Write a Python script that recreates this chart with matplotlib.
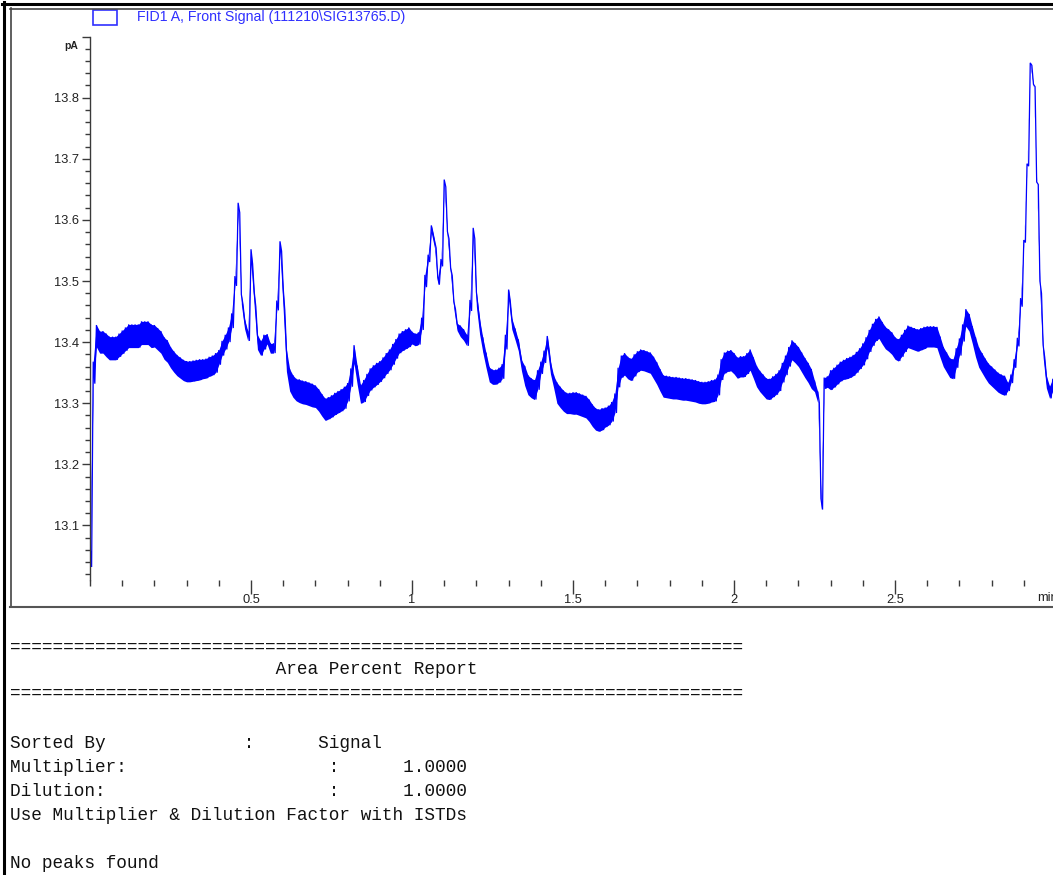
import numpy as np
import matplotlib.pyplot as plt
from matplotlib.lines import Line2D
from matplotlib.patches import Rectangle
from matplotlib.ticker import FixedLocator, FixedFormatter, MultipleLocator

# FID1 A front signal, centre of the noise band, one value every 0.01 min (pA)
step = 0.01
signal = [
    13.05, 13.35, 13.41, 13.40, 13.40, 13.395, 13.39, 13.39, 13.39, 13.395,
    13.40, 13.405, 13.41, 13.41, 13.41, 13.41, 13.415, 13.415, 13.415, 13.41,
    13.41, 13.405, 13.40, 13.39, 13.385, 13.375, 13.368, 13.362, 13.358, 13.354,
    13.352, 13.352, 13.353, 13.354, 13.355, 13.356, 13.357, 13.36, 13.362, 13.366,
    13.375, 13.39, 13.40, 13.412, 13.435, 13.50, 13.62, 13.47, 13.43, 13.41,
    13.54, 13.47, 13.40, 13.39, 13.40, 13.405, 13.39, 13.39, 13.46, 13.557,
    13.47, 13.37, 13.338, 13.328, 13.322, 13.32, 13.318, 13.317, 13.315, 13.313,
    13.311, 13.305, 13.297, 13.29, 13.292, 13.295, 13.299, 13.302, 13.305, 13.309,
    13.318, 13.342, 13.38, 13.345, 13.315, 13.32, 13.33, 13.339, 13.344, 13.348,
    13.352, 13.358, 13.365, 13.371, 13.38, 13.389, 13.398, 13.402, 13.405, 13.408,
    13.407, 13.404, 13.406, 13.43, 13.50, 13.537, 13.585, 13.56, 13.50, 13.53,
    13.66, 13.575, 13.515, 13.46, 13.425, 13.418, 13.412, 13.403, 13.46, 13.578,
    13.47, 13.425, 13.395, 13.37, 13.347, 13.343, 13.343, 13.346, 13.352, 13.40,
    13.477, 13.43, 13.413, 13.395, 13.362, 13.345, 13.33, 13.325, 13.322, 13.338,
    13.358, 13.376, 13.40, 13.358, 13.335, 13.317, 13.31, 13.304, 13.30, 13.30,
    13.30, 13.30, 13.298, 13.296, 13.294, 13.288, 13.28, 13.274, 13.272, 13.274,
    13.277, 13.28, 13.286, 13.30, 13.342, 13.36, 13.364, 13.358, 13.355, 13.362,
    13.368, 13.371, 13.37, 13.368, 13.366, 13.358, 13.349, 13.338, 13.328, 13.327,
    13.326, 13.325, 13.325, 13.324, 13.323, 13.323, 13.322, 13.321, 13.32, 13.318,
    13.317, 13.317, 13.318, 13.32, 13.321, 13.33, 13.355, 13.366, 13.369, 13.37,
    13.365, 13.358, 13.36, 13.36, 13.365, 13.371, 13.358, 13.344, 13.336, 13.33,
    13.324, 13.323, 13.327, 13.331, 13.337, 13.35, 13.362, 13.376, 13.387, 13.382,
    13.376, 13.367, 13.358, 13.35, 13.34, 13.328, 13.31, 13.135, 13.333, 13.335,
    13.338, 13.342, 13.347, 13.352, 13.355, 13.357, 13.359, 13.362, 13.367, 13.373,
    13.38, 13.39, 13.402, 13.412, 13.42, 13.424, 13.415, 13.407, 13.403, 13.398,
    13.39, 13.387, 13.394, 13.402, 13.409, 13.407, 13.405, 13.403, 13.405, 13.407,
    13.409, 13.409, 13.409, 13.408, 13.392, 13.376, 13.367, 13.358, 13.356, 13.374,
    13.392, 13.415, 13.44, 13.432, 13.412, 13.392, 13.375, 13.366, 13.357, 13.349,
    13.344, 13.339, 13.334, 13.331, 13.329, 13.327, 13.34, 13.365, 13.40, 13.465,
    13.565, 13.69, 13.855, 13.82, 13.66, 13.49, 13.385, 13.335, 13.318, 13.33,
]
# half-width of the detector noise in each 0.05 min block (pA)
noise = [
    0.018, 0.019, 0.019, 0.019, 0.018, 0.017, 0.017, 0.016, 0.012, 0.008,
    0.012, 0.008, 0.018, 0.019, 0.018, 0.018, 0.015, 0.018, 0.017, 0.016,
    0.010, 0.006, 0.006, 0.009, 0.012, 0.012, 0.009, 0.016, 0.010, 0.017,
    0.018, 0.018, 0.016, 0.018, 0.017, 0.018, 0.018, 0.018, 0.018, 0.017,
    0.017, 0.017, 0.017, 0.016, 0.016, 0.009, 0.016, 0.017, 0.018, 0.018,
    0.018, 0.018, 0.017, 0.016, 0.014, 0.016, 0.016, 0.007, 0.002, 0.010,
]

y_major = [13.1, 13.2, 13.3, 13.4, 13.5, 13.6, 13.7, 13.8, 13.9]
y_labels = ["13.1", "13.2", "13.3", "13.4", "13.5", "13.6", "13.7", "13.8", ""]
x_major = [0.5, 1.0, 1.5, 2.0, 2.5]
x_labels = ["0.5", "1", "1.5", "2", "2.5"]
legend_text = "FID1 A, Front Signal (111210\\SIG13765.D)"

report_lines = [
    "=====================================================================",
    "                         Area Percent Report",
    "=====================================================================",
    "Sorted By             :      Signal",
    "Multiplier:                   :      1.0000",
    "Dilution:                     :      1.0000",
    "Use Multiplier & Dilution Factor with ISTDs",
    "No peaks found",
]
report_y = [647, 670, 693, 743, 767, 791, 815, 863]

W, H = 1053, 875


def fx(x):
    return x / W


def fy(y):
    return 1 - y / H


fig = plt.figure(figsize=(W / 100, H / 100), dpi=100)
fig.patch.set_facecolor("white")

ax = fig.add_axes([fx(90), fy(580), fx(1053) - fx(90), fy(36.6) - fy(580)])
ax.set_facecolor("none")

# noise band: solid ribbon plus a zig-zag between its upper and lower edge
signal = np.array(signal)
t = np.arange(len(signal)) * step
half = np.repeat(noise, 5)[:len(signal)]
ax.fill_between(t, signal - half, signal + half, color="#0000ff", lw=0)
tt = np.column_stack([t, t + step / 2]).ravel()
yy = np.column_stack([signal + half, signal - half]).ravel()
ax.plot(tt, yy, color="#0000ff", lw=0.9, solid_joinstyle="miter")

ax.set_xlim(0, (1053 - 90) / 322)
ax.set_ylim(13.0107, 13.9)

for s in ["top", "right", "bottom"]:
    ax.spines[s].set_visible(False)
ax.spines["left"].set_color("#3a3a3a")
ax.spines["left"].set_linewidth(1.0)

ax.yaxis.set_major_locator(FixedLocator(y_major))
ax.yaxis.set_major_formatter(FixedFormatter(y_labels))
ax.yaxis.set_minor_locator(MultipleLocator(0.02))
ax.xaxis.set_major_locator(FixedLocator(x_major))
ax.xaxis.set_major_formatter(FixedFormatter(x_labels))
ax.xaxis.set_minor_locator(MultipleLocator(0.1))

ax.tick_params(axis="y", which="major", direction="out", length=6, width=1,
               color="#3a3a3a", pad=2, labelsize=9.3, labelcolor="#222222")
ax.tick_params(axis="y", which="minor", direction="out", length=3.5, width=1,
               color="#3a3a3a")
ax.tick_params(axis="x", which="major", direction="out", length=10, width=1,
               color="#3a3a3a", pad=0, labelsize=9.3, labelcolor="#222222")
ax.tick_params(axis="x", which="minor", direction="out", length=4, width=1,
               color="#3a3a3a")
for lab in ax.get_xticklabels() + ax.get_yticklabels():
    lab.set_fontfamily("Liberation Sans")

fig.text(fx(78), fy(46), "pA", ha="right", va="center", fontsize=7.5,
         fontweight="bold", color="#222222", family="Liberation Sans")
# axis unit sits at the right edge of the window and runs past it
fig.text(fx(1037), fy(598), "min", ha="left", va="center", fontsize=9.3,
         color="#222222", family="Liberation Sans")

# legend entry
fig.add_artist(Rectangle((fx(93), fy(25)), fx(24), fy(10) - fy(25),
                         transform=fig.transFigure, fill=False,
                         edgecolor="#3030ff", lw=1.2))
fig.text(fx(137), fy(17.5), legend_text, ha="left", va="center",
         fontsize=10.2, color="#2f2fff", family="Liberation Sans")


# window borders
def hline(y, x0, x1, color, lw):
    fig.add_artist(Line2D([fx(x0), fx(x1)], [fy(y), fy(y)],
                          transform=fig.transFigure, color=color, lw=lw))


def vline(x, y0, y1, color, lw):
    fig.add_artist(Line2D([fx(x), fx(x)], [fy(y0), fy(y1)],
                          transform=fig.transFigure, color=color, lw=lw))


hline(3.5, 2, W, "black", 2.2)
vline(3.5, 2, H, "black", 2.2)
hline(8.5, 10, W, "#444444", 1.2)
vline(10.5, 8, 607, "#444444", 1.2)
hline(607, 10, W, "#555555", 1.5)

# text report under the chromatogram
for line, y in zip(report_lines, report_y):
    fig.text(fx(10), fy(y), line, ha="left", va="center", fontsize=12.8,
             family="Liberation Mono", color="#111111")

fig.savefig("out.png", dpi=100)
